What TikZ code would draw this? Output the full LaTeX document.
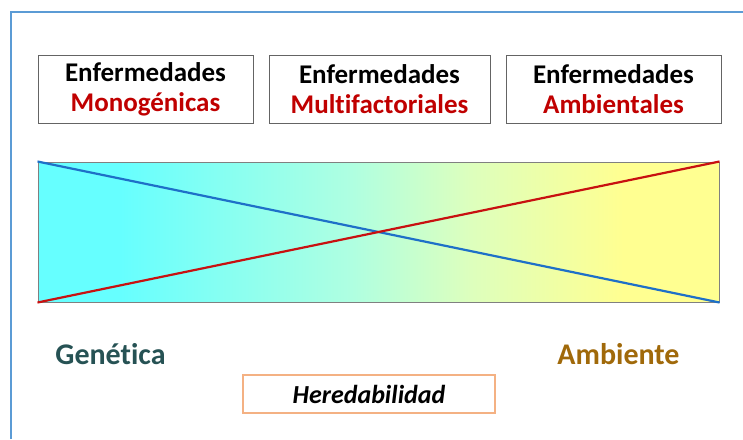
\documentclass[tikz,border=0pt]{standalone}
\usepackage{fontspec}
\setmainfont[Ligatures=NoCommon]{Carlito}
\usetikzlibrary{positioning}
\definecolor{frameblue}{RGB}{91,155,213}
\definecolor{boxgray}{RGB}{100,100,100}
\definecolor{diseasered}{RGB}{192,0,0}
\definecolor{linered}{RGB}{200,16,16}
\definecolor{lineblue}{RGB}{30,112,200}
\definecolor{genteal}{RGB}{38,82,84}
\definecolor{ambgold}{RGB}{160,105,10}
\definecolor{heredorange}{RGB}{244,177,131}
\definecolor{leftcyan}{RGB}{102,255,255}
\definecolor{midgreen}{RGB}{175,255,225}
\definecolor{lightgreen}{RGB}{222,255,188}
\definecolor{rightyellow}{RGB}{255,255,145}
\pgfdeclarehorizontalshading{scaleshading}{100bp}{color(0bp)=(leftcyan);
  color(31bp)=(leftcyan); color(48bp)=(midgreen); color(57bp)=(lightgreen);
  color(68bp)=(rightyellow); color(100bp)=(rightyellow)}

\begin{document}
\begin{tikzpicture}[x=1pt,y=-1pt,
      disease/.style={draw=boxgray,line width=1pt,minimum width=215pt,
        minimum height=68pt,inner sep=0pt,align=center,
        font=\bfseries\fontsize{27}{30}\selectfont},
      side/.style={font=\bfseries\fontsize{30}{32}\selectfont},
      node distance=15pt]
    \useasboundingbox (0,0) rectangle (743,439);
    % frame
    \draw[frameblue,line width=1.2pt] (11,439) -- (11,12) -- (743,12);
    % disease boxes
    \node[disease] (mono) at (145.5,89)
      {Enfermedades\\\textcolor{diseasered}{Monogénicas}};
    \node[disease,minimum width=221pt,right=of mono] (multi)
      {Enfermedades\\\textcolor{diseasered}{Multifactoriales}};
    \node[disease,right=of multi] (amb)
      {Enfermedades\\\textcolor{diseasered}{Ambientales}};
    % scale
    \node[draw=gray,line width=1pt,minimum width=681pt,minimum height=140pt,
      shading=scaleshading] (scale) at (378.5,232) {};
    \draw[lineblue,line width=2.2pt] (scale.north west) -- (scale.south east);
    \draw[linered,line width=2.2pt] (scale.south west) -- (scale.north east);
    % labels
    \node[side,text=genteal] (gen) at (110.5,354) {Genética};
    \node[side,text=ambgold] (env) at (618.5,354) {Ambiente};
    \node[draw=heredorange,line width=1.2pt,minimum width=252pt,
      minimum height=38pt,inner sep=0pt,
      font=\bfseries\itshape\fontsize{26}{28}\selectfont]
      (hered) at (369,394) {Heredabilidad};
\end{tikzpicture}
\end{document}
